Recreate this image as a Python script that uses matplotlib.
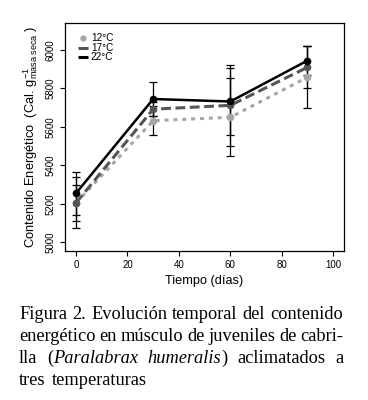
import matplotlib
matplotlib.use("Agg")
import matplotlib.pyplot as plt

plt.rcParams['font.family'] = ['Liberation Sans', 'DejaVu Sans']
plt.rcParams['mathtext.fontset'] = 'custom'
plt.rcParams['mathtext.rm'] = 'Liberation Sans'
plt.rcParams['mathtext.it'] = 'Liberation Sans:italic'

days = [0, 30, 60, 90]
labels = ['12°C', '17°C', '22°C']
e12 = [5205, 5632, 5650, 5858]
e17 = [5205, 5692, 5712, 5910]
e22 = [5255, 5745, 5732, 5945]
err12 = [132, 74, 203, 162]
err17 = [93, 35, 210, 110]
err22 = [112, 87, 174, 77]

caption = ["Figura 2. Evolución temporal del contenido",
           "energético en músculo de juveniles de cabri-",
           "lla (|Paralabrax humeralis|) aclimatados a",
           "tres temperaturas"]

fig = plt.figure(figsize=(3.68, 4.0), dpi=100)
ax = fig.add_axes([0.1766, 0.3733, 0.7582, 0.57])

styles = [
    dict(color='#a6a6a6', ls=(0, (1.3, 1.6)), lw=2.2),
    dict(color='#555555', ls=(0, (3.2, 1.5)), lw=2.2),
    dict(color='#000000', ls='-', lw=1.8),
]
series = [e12, e17, e22]
errs = [err12, err17, err22]
for s, e in zip(series, errs):
    ax.errorbar(days, s, yerr=e, fmt='none', ecolor='black', elinewidth=0.9,
                capsize=2.9, capthick=0.9, zorder=2)
for s, st in zip(series, styles):
    ax.plot(days, s, marker='o', ms=4.5, mfc=st['color'], mec=st['color'],
            color=st['color'], ls=st['ls'], lw=st['lw'], zorder=3,
            dash_capstyle='butt')

ax.set_xlim(-4.3, 104.2)
ax.set_ylim(4956, 6142)
ax.set_xticks(range(0, 101, 20))
ax.set_yticks(range(5000, 6001, 200))
ax.tick_params(axis='both', labelsize=7, length=3.6, width=0.8, pad=3)
for lab in ax.get_yticklabels():
    lab.set_rotation(90)
    lab.set_va('center')
for sp in ax.spines.values():
    sp.set_linewidth(0.9)

ax.set_xlabel('Tiempo (días)', fontsize=9.2, labelpad=4)
ax.set_ylabel('Contenido Energético  (Cal. g$^{-1}_{\\mathrm{masa\\ seca}}$ )',
              fontsize=9.3, labelpad=4)

# legend
lx0, lx1, ltx = 0.047, 0.081, 0.093
ly, dy = 0.932, 0.0417
ax.plot([(lx0 + lx1) / 2], [ly], transform=ax.transAxes, marker='o', ms=3.5,
        color='#a6a6a6', ls='none', clip_on=False)
ax.plot([lx0, lx1], [ly - dy] * 2, transform=ax.transAxes,
        color='#555555', lw=2.2, solid_capstyle='butt')
ax.plot([lx0, lx1], [ly - 2 * dy] * 2, transform=ax.transAxes,
        color='black', lw=2.2, solid_capstyle='butt')
for i, lab in enumerate(labels):
    ax.text(ltx, ly - i * dy, lab, transform=ax.transAxes,
            fontsize=7.2, va='center', ha='left')

# caption, justified
fig.canvas.draw()
renderer = fig.canvas.get_renderer()
x0, x1 = 19 / 368, 343 / 368
ys = [319, 341, 363, 385]
fsz = 13.2
W = fig.bbox.width


def measure(s, it=False):
    t = fig.text(0, 0, s, fontsize=fsz, family='Liberation Serif',
                 style='italic' if it else 'normal')
    w = t.get_window_extent(renderer).width / W
    t.remove()
    return w


space = measure('a a') - measure('aa')
italic = False
for li, (line, yp) in enumerate(zip(caption, ys)):
    ypos = 1 - yp / 400
    words = []
    for w in line.split(' '):
        segs = []
        for k, seg in enumerate(w.split('|')):
            if k > 0:
                italic = not italic
            if seg:
                segs.append((seg, italic))
        words.append(segs)
    widths = [sum(measure(s, it) for s, it in wd) for wd in words]
    if li < len(caption) - 1:
        gap = (x1 - x0 - sum(widths)) / (len(words) - 1)
    else:
        gap = space * 1.3
    x = x0
    for wd, w in zip(words, widths):
        xx = x
        for s, it in wd:
            fig.text(xx, ypos, s, fontsize=fsz, family='Liberation Serif',
                     style='italic' if it else 'normal', va='baseline')
            xx += measure(s, it)
        x += w + gap

fig.savefig('out.png', dpi=100)
